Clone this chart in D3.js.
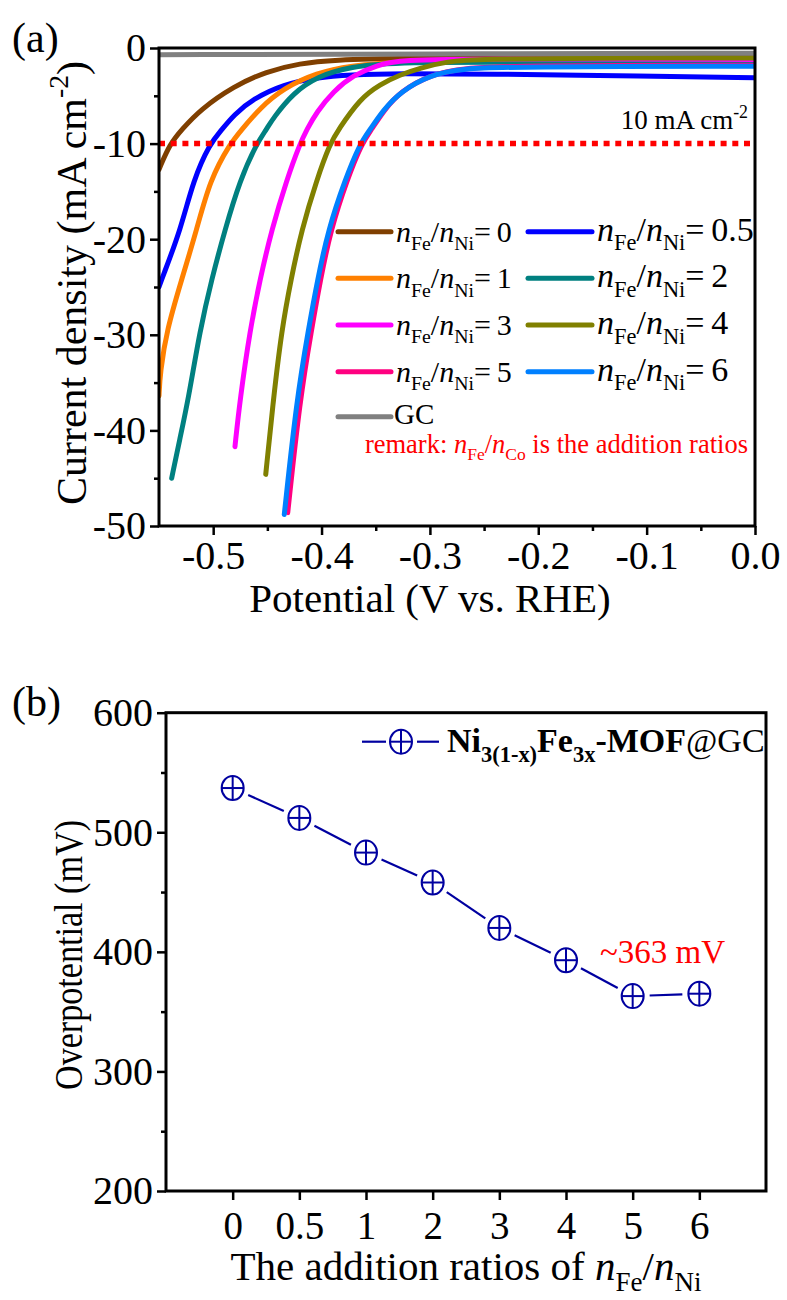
<!DOCTYPE html>
<html>
<head>
<meta charset="utf-8">
<script src="https://cdn.jsdelivr.net/npm/d3@7"></script>
<style>
  body { margin: 0; background: #fff; }
</style>
</head>
<body>
<svg id="chart" width="787" height="1300"></svg>
<script>
// ---------- (a) LSV polarization curves: [potential (V vs. RHE), current density (mA cm^-2)] ----------
const lsvGC = [[-0.55, -0.7], [-0.3, -0.62], [0, -0.55]];
const lsvR0 = [[-0.55, -12.7], [-0.5398, -10.0], [-0.529, -8.55], [-0.512, -6.45], [-0.481, -4.0],
  [-0.451, -2.45], [-0.42, -1.6], [-0.389, -1.25], [-0.328, -1.05], [-0.2, -1.02], [0, -1.0]];
const lsvR05 = [[-0.55, -25.0], [-0.5475, -24.2], [-0.53, -19.0], [-0.5183, -13.8], [-0.503, -10.0],
  [-0.4921, -8.55], [-0.481, -7.0], [-0.463, -5.3], [-0.435, -3.8], [-0.405, -3.1], [-0.374, -2.8],
  [-0.328, -2.65], [-0.25, -2.7], [-0.1, -2.95], [0, -3.1]];
const lsvR1 = [[-0.55, -36.4], [-0.549, -34.0], [-0.5429, -29.5], [-0.529, -24.2], [-0.5152, -19.0],
  [-0.503, -13.8], [-0.4845, -10.0], [-0.4737, -8.55], [-0.457, -6.3], [-0.435, -4.2], [-0.4045, -2.6],
  [-0.374, -1.85], [-0.328, -1.4], [-0.2, -1.3], [0, -1.35]];
const lsvR2 = [[-0.5383, -45.0], [-0.531, -41.0], [-0.523, -36.8], [-0.5122, -29.5], [-0.5014, -24.2],
  [-0.4891, -19.0], [-0.4752, -13.8], [-0.4599, -10.0], [-0.451, -8.55], [-0.4445, -7.3], [-0.426, -4.7],
  [-0.4045, -3.0], [-0.374, -1.95], [-0.328, -1.45], [-0.2, -1.5], [0, -1.55]];
const lsvR3 = [[-0.4799, -41.7], [-0.4753, -36.8], [-0.466, -29.5], [-0.4568, -24.2], [-0.446, -19.0],
  [-0.4322, -13.8], [-0.4199, -10.0], [-0.4137, -8.55], [-0.4045, -6.7], [-0.389, -4.5], [-0.3707, -2.85],
  [-0.349, -1.8], [-0.3276, -1.25], [-0.25, -1.1], [0, -1.2]];
const lsvR4 = [[-0.4515, -44.6], [-0.4445, -36.8], [-0.4368, -29.5], [-0.4282, -24.2], [-0.4183, -19.0],
  [-0.4045, -13.8], [-0.3922, -10.0], [-0.3845, -8.55], [-0.3645, -5.3], [-0.346, -3.8], [-0.3276, -2.8],
  [-0.3091, -2.1], [-0.2845, -1.4], [-0.2538, -1.15], [-0.15, -1.05], [0, -1.05]];
const lsvR5 = [[-0.4312, -48.6], [-0.42, -36.8], [-0.4093, -29.5], [-0.401, -24.2], [-0.3915, -19.0],
  [-0.3765, -13.8], [-0.363, -10.0], [-0.354, -8.55], [-0.342, -6.45], [-0.3266, -4.5], [-0.299, -2.75],
  [-0.268, -2.1], [-0.2233, -1.85], [0, -1.8]];
const lsvR6 = [[-0.4344, -48.8], [-0.423, -36.8], [-0.4122, -29.5], [-0.4036, -24.2], [-0.3938, -19.0],
  [-0.3784, -13.8], [-0.3645, -10.0], [-0.3553, -8.55], [-0.343, -6.5], [-0.3276, -4.6], [-0.3, -2.8],
  [-0.2693, -2.15], [-0.2233, -1.95], [0, -1.9]];

const potentialTicks = [-0.5, -0.4, -0.3, -0.2, -0.1, 0.0];
const potentialMinorTicks = [-0.45, -0.35, -0.25, -0.15, -0.05];
const currentTicks = [0, -10, -20, -30, -40, -50];
const currentMinorTicks = [-5, -15, -25, -35, -45];
const benchmarkCurrent = -10;

// ---------- (b) overpotential at 10 mA cm^-2 ----------
const ratioLabels = ["0", "0.5", "1", "2", "3", "4", "5", "6"];
const overpotential = [537, 512, 483, 458, 420, 393, 363, 365];
const overpotentialTicks = [200, 300, 400, 500, 600];
const overpotentialMinorTicks = [250, 350, 450, 550];

const FONT = '"Liberation Serif", "Times New Roman", serif';
const svg = d3.select("#chart");

// Writes a text element made of runs (italic / bold / subscript / superscript)
function richText(parent, x, y, parts, opt) {
  const size = opt.size;
  const t = parent.append("text")
    .attr("x", x).attr("y", y)
    .attr("font-size", size)
    .attr("text-anchor", opt.anchor || "start")
    .style("fill", opt.fill || "#000");
  if (opt.transform) t.attr("transform", opt.transform);
  let offset = 0;
  parts.forEach(p => {
    const shift = p.sub ? size * 0.28 : p.sup ? -size * 0.42 : 0;
    const ts = t.append("tspan").text(p.t).attr("dy", shift - offset);
    offset = shift;
    if (p.sub || p.sup) ts.attr("font-size", size * (p.scale || 0.66));
    if (p.i) ts.attr("font-style", "italic");
    if (p.b) ts.attr("font-weight", "bold");
    if (p.n) ts.attr("font-weight", "normal");
  });
  return t;
}

function styleAxis(g, fontSize) {
  g.select(".domain").remove();
  g.selectAll(".tick line").attr("stroke", "#000").attr("stroke-width", 2.5);
  g.selectAll(".tick text").attr("font-size", fontSize).style("fill", "#000");
}

// ====================== Panel (a) ======================
const xA = d3.scaleLinear().domain([-0.55, 0]).range([159, 755]);
const yA = d3.scaleLinear().domain([-50, 0]).range([526, 48]);
const gA = svg.append("g");

const seriesA = [
  { data: lsvR0, color: "#7f3f00" },
  { data: lsvR05, color: "#0000ff" },
  { data: lsvR1, color: "#ff8000" },
  { data: lsvR2, color: "#008080" },
  { data: lsvR3, color: "#ff00ff" },
  { data: lsvR4, color: "#808000" },
  { data: lsvR5, color: "#ff0080" },
  { data: lsvR6, color: "#0080ff" },
  { data: lsvGC, color: "#808080" }
];

gA.append("clipPath").attr("id", "clipA")
  .append("rect").attr("x", xA(-0.55)).attr("y", yA(0) - 1)
  .attr("width", xA(0) - xA(-0.55)).attr("height", yA(-50) - yA(0) + 2);

const lineA = d3.line().x(d => xA(d[0])).y(d => yA(d[1])).curve(d3.curveBasis);
const curves = gA.append("g").attr("clip-path", "url(#clipA)");
seriesA.forEach(s => {
  curves.append("path").attr("d", lineA(s.data))
    .attr("fill", "none").attr("stroke", s.color)
    .attr("stroke-width", 5).attr("stroke-linecap", "round").attr("stroke-linejoin", "round");
});

// 10 mA cm^-2 reference line
gA.append("line")
  .attr("x1", xA(-0.55)).attr("x2", xA(0))
  .attr("y1", yA(benchmarkCurrent)).attr("y2", yA(benchmarkCurrent))
  .attr("stroke", "#ff0000").attr("stroke-width", 5.5).attr("stroke-dasharray", "6,5.7");

// axes
const axA_x = gA.append("g").attr("transform", `translate(0,${yA(-50)})`)
  .call(d3.axisBottom(xA).tickValues(potentialTicks).tickSize(9).tickPadding(6).tickFormat(d => d.toFixed(1)));
styleAxis(axA_x, 40);
const axA_xm = gA.append("g").attr("transform", `translate(0,${yA(-50)})`)
  .call(d3.axisBottom(xA).tickValues(potentialMinorTicks).tickSize(5).tickFormat(""));
styleAxis(axA_xm, 10);
const axA_y = gA.append("g").attr("transform", `translate(${xA(-0.55)},0)`)
  .call(d3.axisLeft(yA).tickValues(currentTicks).tickSize(9).tickPadding(4).tickFormat(d => String(d)));
styleAxis(axA_y, 40);
const axA_ym = gA.append("g").attr("transform", `translate(${xA(-0.55)},0)`)
  .call(d3.axisLeft(yA).tickValues(currentMinorTicks).tickSize(5).tickFormat(""));
styleAxis(axA_ym, 10);

gA.append("rect")
  .attr("x", xA(-0.55)).attr("y", yA(0))
  .attr("width", xA(0) - xA(-0.55)).attr("height", yA(-50) - yA(0))
  .attr("fill", "none").attr("stroke", "#000").attr("stroke-width", 3);

// axis titles
gA.append("text").attr("x", 430).attr("y", 612).attr("text-anchor", "middle")
  .attr("font-size", 41).text("Potential (V vs. RHE)");
richText(gA, 0, 0, [{ t: "Current density (mA cm" }, { t: "-2", sup: true }, { t: ")" }],
  { size: 42, anchor: "middle", transform: "translate(86,283) rotate(-90)" });

gA.append("text").attr("x", 12).attr("y", 52).attr("font-size", 42).text("(a)");

// 10 mA cm-2 note
richText(gA, 748, 129, [{ t: "10 mA cm" }, { t: "-2", sup: true }], { size: 27, anchor: "end" });

// legend
const ratioParts = r => [{ t: "n", i: true }, { t: "Fe", sub: true }, { t: "/" }, { t: "n", i: true },
  { t: "Ni", sub: true }, { t: "=\u2009" + r }];
const legendLeft = [
  { label: "0", color: "#7f3f00" }, { label: "1", color: "#ff8000" }, { label: "3", color: "#ff00ff" },
  { label: "5", color: "#ff0080" }
];
const legendRight = [
  { label: "0.5", color: "#0000ff" }, { label: "2", color: "#008080" }, { label: "4", color: "#808000" },
  { label: "6", color: "#0080ff" }
];
const rowY = [231.7, 278.3, 325, 371.7, 416.7];
legendLeft.forEach((d, i) => {
  gA.append("line").attr("x1", 338).attr("x2", 391).attr("y1", rowY[i]).attr("y2", rowY[i])
    .attr("stroke", d.color).attr("stroke-width", 5).attr("stroke-linecap", "round");
  richText(gA, 396, rowY[i] + 10, ratioParts(d.label), { size: 30 });
});
legendRight.forEach((d, i) => {
  gA.append("line").attr("x1", 528).attr("x2", 592).attr("y1", rowY[i]).attr("y2", rowY[i])
    .attr("stroke", d.color).attr("stroke-width", 5).attr("stroke-linecap", "round");
  richText(gA, 597, rowY[i] + 9, ratioParts(d.label), { size: 34 });
});
gA.append("line").attr("x1", 338).attr("x2", 391).attr("y1", rowY[4]).attr("y2", rowY[4])
  .attr("stroke", "#808080").attr("stroke-width", 5).attr("stroke-linecap", "round");
gA.append("text").attr("x", 394).attr("y", rowY[4] + 7).attr("font-size", 29).text("GC");
richText(gA, 748, 453, [{ t: "remark: " }, { t: "n", i: true }, { t: "Fe", sub: true }, { t: "/" },
  { t: "n", i: true }, { t: "Co", sub: true }, { t: " is the addition ratios" }],
  { size: 26.5, anchor: "end", fill: "#ff0000" });

// ====================== Panel (b) ======================
const xB = d3.scalePoint().domain(ratioLabels).range([166, 766]).padding(1);
const yB = d3.scaleLinear().domain([200, 600]).range([1191, 712.7]);
const gB = svg.append("g");
const markColor = "#0000a0";

const axB_x = gB.append("g").attr("transform", `translate(0,${yB(200)})`)
  .call(d3.axisBottom(xB).tickSize(9).tickPadding(11));
styleAxis(axB_x, 39);
const axB_y = gB.append("g").attr("transform", `translate(${xB.range()[0]},0)`)
  .call(d3.axisLeft(yB).tickValues(overpotentialTicks).tickSize(9).tickPadding(4).tickFormat(d => String(d)));
styleAxis(axB_y, 40);
const axB_ym = gB.append("g").attr("transform", `translate(${xB.range()[0]},0)`)
  .call(d3.axisLeft(yB).tickValues(overpotentialMinorTicks).tickSize(5).tickFormat(""));
styleAxis(axB_ym, 10);

gB.append("rect")
  .attr("x", 166).attr("y", yB(600))
  .attr("width", 600).attr("height", yB(200) - yB(600))
  .attr("fill", "none").attr("stroke", "#000").attr("stroke-width", 3);

// connecting segments, trimmed so they stop short of each symbol
const pts = ratioLabels.map((r, i) => [xB(r), yB(overpotential[i])]);
const gap = 17;
for (let i = 0; i < pts.length - 1; i++) {
  const [x1, y1] = pts[i], [x2, y2] = pts[i + 1];
  const len = Math.hypot(x2 - x1, y2 - y1);
  const ux = (x2 - x1) / len, uy = (y2 - y1) / len;
  gB.append("line")
    .attr("x1", x1 + ux * gap).attr("y1", y1 + uy * gap)
    .attr("x2", x2 - ux * gap).attr("y2", y2 - uy * gap)
    .attr("stroke", markColor).attr("stroke-width", 2.2);
}

function crossCircle(g, cx, cy) {
  const rx = 11, ry = 12;
  g.append("ellipse").attr("cx", cx).attr("cy", cy).attr("rx", rx).attr("ry", ry)
    .attr("fill", "#fff").attr("stroke", markColor).attr("stroke-width", 2);
  g.append("line").attr("x1", cx - rx).attr("x2", cx + rx).attr("y1", cy).attr("y2", cy)
    .attr("stroke", markColor).attr("stroke-width", 2);
  g.append("line").attr("x1", cx).attr("x2", cx).attr("y1", cy - ry).attr("y2", cy + ry)
    .attr("stroke", markColor).attr("stroke-width", 2);
}
pts.forEach(p => crossCircle(gB, p[0], p[1]));

// value note
gB.append("text").attr("x", 600).attr("y", 963).attr("font-size", 33)
  .style("fill", "#ff0000").text("~" + overpotential[6] + " mV");

// legend
gB.append("line").attr("x1", 362).attr("x2", 386).attr("y1", 741.7).attr("y2", 741.7)
  .attr("stroke", markColor).attr("stroke-width", 2.2);
gB.append("line").attr("x1", 417).attr("x2", 439).attr("y1", 741.7).attr("y2", 741.7)
  .attr("stroke", markColor).attr("stroke-width", 2.2);
crossCircle(gB, 401, 741.7);
richText(gB, 447, 752, [{ t: "Ni", b: true }, { t: "3(1-x)", sub: true, b: true }, { t: "Fe", b: true },
  { t: "3x", sub: true, b: true }, { t: "-MOF", b: true }, { t: "@GC", n: true }], { size: 34 });

// axis titles
richText(gB, 466, 1280, [{ t: "The addition ratios of " }, { t: "n", i: true }, { t: "Fe", sub: true },
  { t: "/" }, { t: "n", i: true }, { t: "Ni", sub: true }], { size: 41, anchor: "middle" });
gB.append("text").attr("transform", "translate(82,955) rotate(-90)")
  .attr("text-anchor", "middle").attr("font-size", 41)
  .attr("textLength", 270).attr("lengthAdjust", "spacingAndGlyphs")
  .text("Overpotential (mV)");
gB.append("text").attr("x", 12).attr("y", 716).attr("font-size", 42).text("(b)");

// one typeface for every label
svg.selectAll("text").style("font-family", FONT);
</script>
</body>
</html>
